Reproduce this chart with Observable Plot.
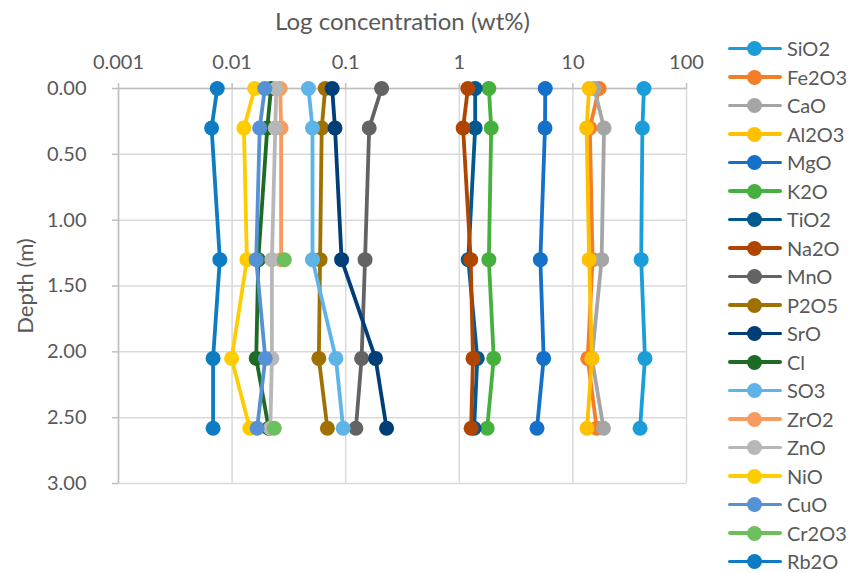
<!DOCTYPE html>
<html>
<head>
<meta charset="utf-8">
<script src="https://cdn.jsdelivr.net/npm/d3@7"></script>
<script src="https://cdn.jsdelivr.net/npm/@observablehq/plot@0.6"></script>
<style>
  body { margin: 0; background: #fff; }
  #wrap { position: relative; width: 853px; height: 573px; font-family: Lato, "Open Sans", sans-serif; }
  #chart { position: absolute; left: 0; top: 0; }
  #legend { position: absolute; left: 728px; top: 34px; }
  .item { position: relative; height: 28.5px; width: 125px; }
  .item .ln { position: absolute; left: 0; top: 12.5px; width: 54px; height: 3.5px; border-radius: 2px; }
  .item .dt { position: absolute; left: 19px; top: 7px; width: 15px; height: 15px; border-radius: 50%; }
  .item .tx { position: absolute; left: 59px; top: 0; line-height: 28px; font-size: 20px; color: #595959; }
</style>
</head>
<body>
<div id="wrap">
  <div id="chart"></div>
  <div id="legend"></div>
</div>
<script>
// Depths (m)
const depth = [0, 0.3, 1.3, 2.05, 2.58];

// Series names and colours (legend order)
const names = ["SiO2","Fe2O3","CaO","Al2O3","MgO","K2O","TiO2","Na2O","MnO","P2O5","SrO","Cl","SO3","ZrO2","ZnO","NiO","CuO","Cr2O3","Rb2O"];
const colors = ["#1B9DD9","#F47E28","#A5A5A5","#FFC000","#1470C8","#46B03E","#00598F","#B04500","#636363","#A07100","#003E78","#1E6B24","#5EB4E6","#F79C5E","#B7B7B7","#FFCC00","#5591D4","#6DBF5E","#0E7CC3"];

// Concentrations (wt%) at each depth
const SiO2  = [42.2, 40.9, 39.9, 43.1, 39.0];
const Fe2O3 = [17.0, 14.1, 14.9, 13.5, 16.2];
const CaO   = [15.4, 18.8, 17.9, 14.7, 18.6];
const Al2O3 = [13.9, 13.2, 13.9, 14.7, 13.3];
const MgO   = [5.71, 5.68, 5.17, 5.53, 4.83];
const K2O   = [1.82, 1.91, 1.82, 2.01, 1.76];
const TiO2  = [1.38, 1.38, 1.20, 1.44, 1.35];
const Na2O  = [1.19, 1.08, 1.26, 1.32, 1.27];
const MnO   = [0.207, 0.161, 0.148, 0.138, 0.123];
const P2O5  = [0.066, 0.0615, 0.0595, 0.058, 0.069];
const SrO   = [0.076, 0.0805, 0.092, 0.183, 0.229];
const Cl    = [0.022, 0.0204, 0.017, 0.0163, 0.021];
const SO3   = [0.047, 0.051, 0.051, 0.082, 0.095];
const ZrO2  = [0.0265, 0.027, 0.027, null, null];
const ZnO   = [0.0245, 0.024, 0.0224, 0.0224, 0.0217];
const NiO   = [0.0158, 0.0127, 0.0135, 0.0099, 0.0143];
const CuO   = [0.0194, 0.0175, 0.0163, 0.0196, 0.0166];
const Cr2O3 = [null, null, 0.0288, null, 0.0235];
const Rb2O  = [0.0074, 0.0066, 0.0078, 0.0068, 0.0068];

const values = [SiO2, Fe2O3, CaO, Al2O3, MgO, K2O, TiO2, Na2O, MnO, P2O5, SrO, Cl, SO3, ZrO2, ZnO, NiO, CuO, Cr2O3, Rb2O];

// Axis ticks
const xTicks = [0.001, 0.01, 0.1, 1, 10, 100];
const xTickLabels = ["0.001", "0.01", "0.1", "1", "10", "100"];
const yTicks = [0, 0.5, 1, 1.5, 2, 2.5, 3];
const yTickLabels = ["0.00", "0.50", "1.00", "1.50", "2.00", "2.50", "3.00"];
const xTitle = "Log concentration (wt%)";
const yTitle = "Depth (m)";

const rows = names.map((n, i) => depth.map((d, j) => ({name: n, depth: d, value: values[i][j] == null ? NaN : values[i][j]})));

const seriesMarks = rows.flatMap(r => [
  Plot.line(r, {x: "value", y: "depth", stroke: "name", strokeWidth: 3.8}),
  Plot.dot(r.filter(d => !isNaN(d.value)), {x: "value", y: "depth", fill: "name", r: 7.5, stroke: "none"})
]);

const chart = Plot.plot({
  width: 720,
  height: 573,
  marginLeft: 118,
  marginRight: 34,
  marginTop: 88,
  marginBottom: 90,
  style: {fontFamily: "Lato, 'Open Sans', sans-serif", fontSize: "20px", color: "#595959", background: "#fff", overflow: "visible"},
  x: {type: "log", domain: [0.001, 100]},
  y: {domain: [0, 3], reverse: true},
  color: {domain: names, range: colors},
  marks: [
    Plot.gridX(xTicks, {stroke: "#D9D9D9", strokeOpacity: 1, strokeWidth: 1.5}),
    Plot.gridY(yTicks, {stroke: "#D9D9D9", strokeOpacity: 1, strokeWidth: 1.5}),
    Plot.ruleY([0], {stroke: "#BFBFBF", strokeWidth: 1.5}),
    Plot.ruleX([0.001], {stroke: "#BFBFBF", strokeWidth: 1.5}),
    Plot.axisX(xTicks, {anchor: "top", tickSize: 6, tickPadding: 14, stroke: "#BFBFBF", strokeWidth: 1.5, fill: "#595959",
      tickFormat: d => xTickLabels[xTicks.indexOf(d)], label: null}),
    Plot.axisY(yTicks, {anchor: "left", tickSize: 6, tickPadding: 26, stroke: "#BFBFBF", strokeWidth: 1.5, fill: "#595959",
      tickFormat: d => yTickLabels[yTicks.indexOf(d)], label: null}),
    Plot.text([xTitle], {frameAnchor: "top", dy: -66, fontSize: 24, fill: "#595959", textAnchor: "middle", lineAnchor: "middle"}),
    Plot.text([yTitle], {frameAnchor: "left", dx: -93, rotate: -90, fontSize: 22, fill: "#595959", textAnchor: "middle", lineAnchor: "middle"}),
    ...seriesMarks
  ]
});
document.getElementById("chart").appendChild(chart);

// Legend
const legend = document.getElementById("legend");
names.forEach((n, i) => {
  const it = document.createElement("div");
  it.className = "item";
  it.innerHTML = `<div class="ln" style="background:${colors[i]}"></div><div class="dt" style="background:${colors[i]}"></div><div class="tx">${n}</div>`;
  legend.appendChild(it);
});
</script>
</body>
</html>
